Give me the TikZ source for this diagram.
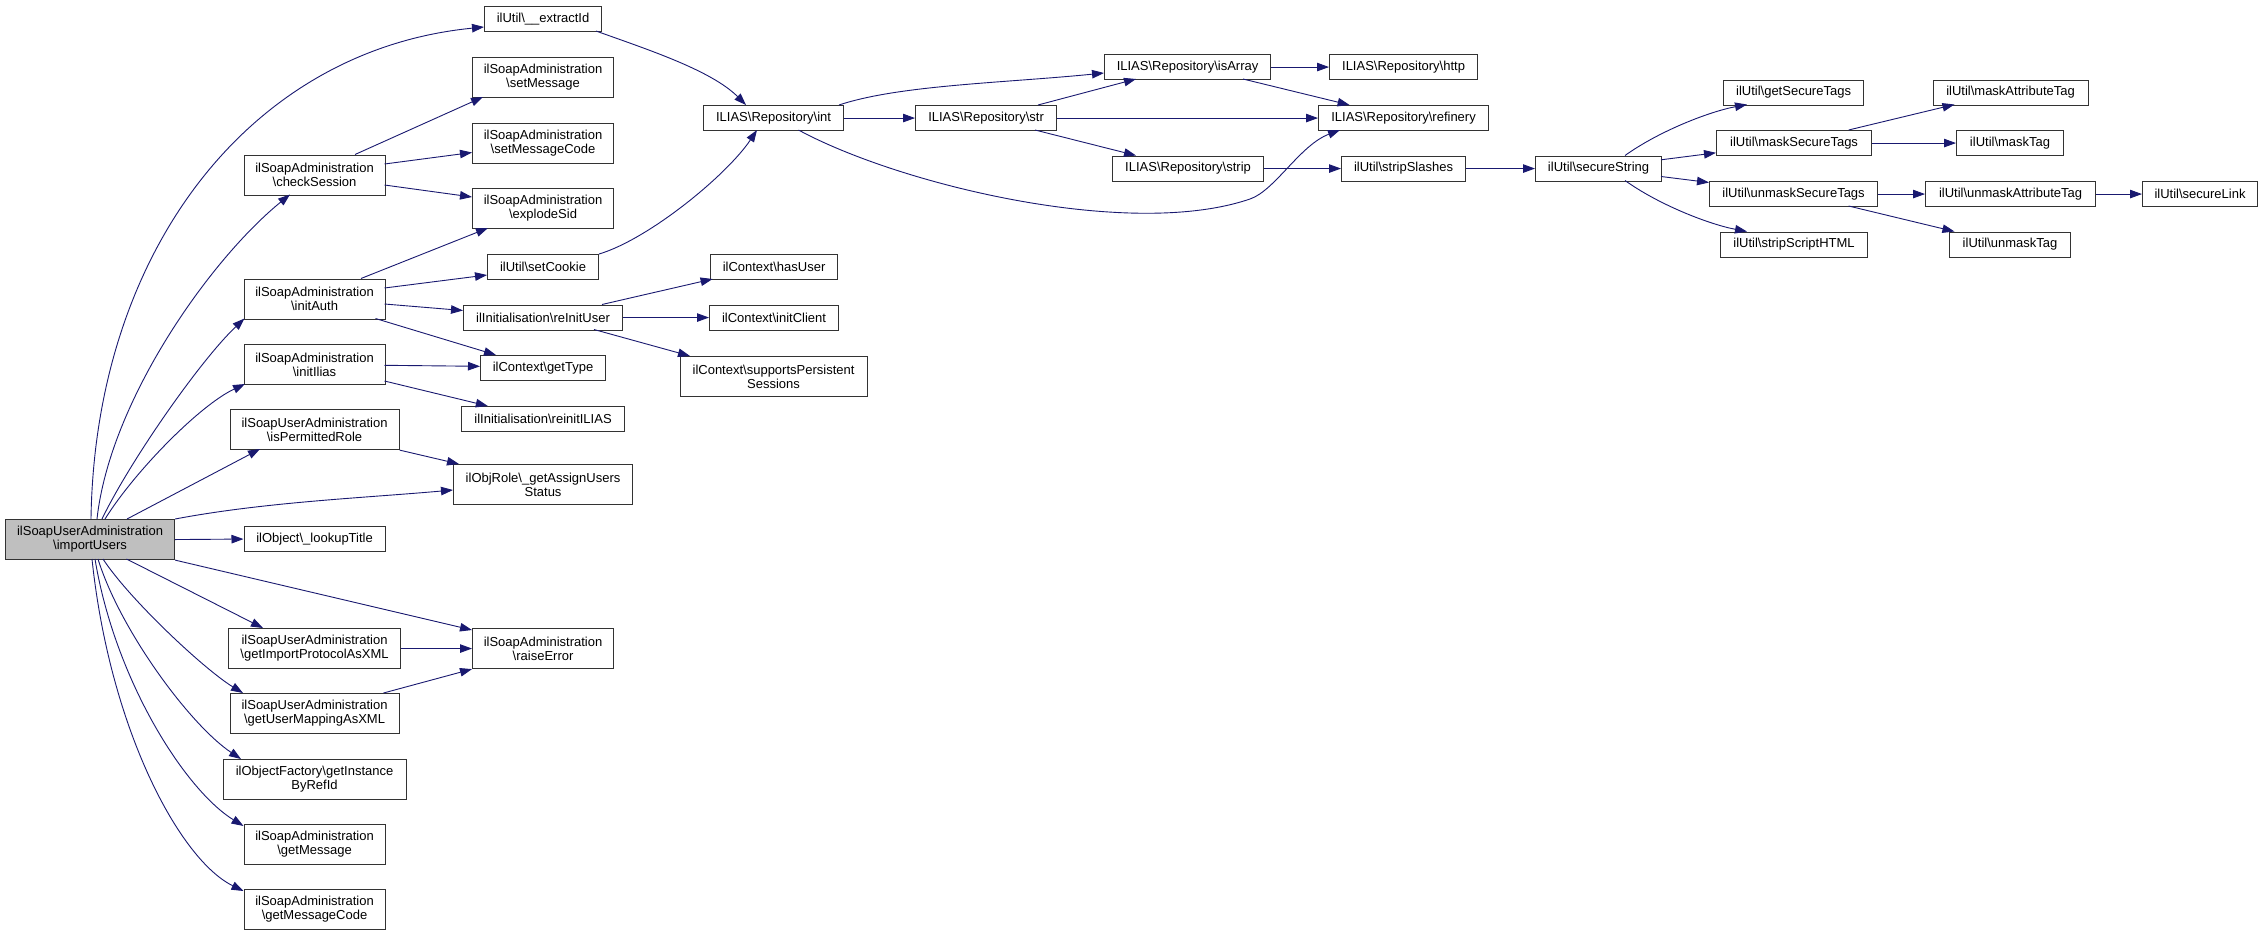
\documentclass[tikz,border=0pt]{standalone}
\usepackage{fontspec}
\setmainfont{Liberation Sans}
\usetikzlibrary{arrows.meta}
\definecolor{edgeblue}{HTML}{191970}
\definecolor{boxline}{HTML}{333333}
\newcommand\bsl{\textbackslash{}}
\tikzset{
  box/.style={draw=boxline, line width=1.1pt, inner sep=1pt, align=center, anchor=north west,
    font=\fontsize{13}{14}\selectfont, minimum height=25pt},
  tall/.style={minimum height=40pt},
  e/.style={draw=edgeblue, line width=0.9pt, -{Triangle[length=12pt,width=8.5pt]}}
}
\begin{document}
\begin{tikzpicture}[x=1pt,y=-1pt]
\fill[white] (0,0) rectangle (2263,935);
\useasboundingbox (0,0) rectangle (2263,935);
% column 1
\node[box,tall,fill=black!25,minimum width=169pt] (iu) at (5,519) {ilSoapUserAdministration\\\bsl importUsers};
% column 2
\node[box,tall,minimum width=141pt] (cs) at (243.5,154.5) {ilSoapAdministration\\\bsl checkSession};
\node[box,tall,minimum width=141pt] (ia) at (243.5,278.5) {ilSoapAdministration\\\bsl initAuth};
\node[box,tall,minimum width=141pt] (ii) at (243.5,344) {ilSoapAdministration\\\bsl initIlias};
\node[box,tall,minimum width=169pt] (ip) at (229.5,409) {ilSoapUserAdministration\\\bsl isPermittedRole};
\node[box,minimum width=141pt] (lt) at (243.5,526) {ilObject\bsl\_lookupTitle};
\node[box,tall,minimum width=172pt] (gi) at (228,628) {ilSoapUserAdministration\\\bsl getImportProtocolAsXML};
\node[box,tall,minimum width=169pt] (gu) at (229.5,693) {ilSoapUserAdministration\\\bsl getUserMappingAsXML};
\node[box,tall,minimum width=183pt] (gf) at (222.5,759) {ilObjectFactory\bsl getInstance\\ByRefId};
\node[box,tall,minimum width=141pt] (gm) at (243.5,824) {ilSoapAdministration\\\bsl getMessage};
\node[box,tall,minimum width=141pt] (gc) at (243.5,889) {ilSoapAdministration\\\bsl getMessageCode};
% column 3
\node[box,minimum width=117pt] (ex) at (484,6) {ilUtil\bsl\_\_extractId};
\node[box,tall,minimum width=141pt] (sm) at (472,57) {ilSoapAdministration\\\bsl setMessage};
\node[box,tall,minimum width=141pt] (smc) at (472,122.5) {ilSoapAdministration\\\bsl setMessageCode};
\node[box,tall,minimum width=141pt] (es) at (472,188) {ilSoapAdministration\\\bsl explodeSid};
\node[box,minimum width=111pt] (sc) at (487,254) {ilUtil\bsl setCookie};
\node[box,minimum width=159pt] (ri) at (463,304.5) {ilInitialisation\bsl reInitUser};
\node[box,minimum width=125pt] (gt) at (480,355) {ilContext\bsl getType};
\node[box,minimum width=163pt] (rI) at (461,406) {ilInitialisation\bsl reinitILIAS};
\node[box,tall,minimum width=179pt] (ga) at (453,464) {ilObjRole\bsl\_getAssignUsers\\Status};
\node[box,tall,minimum width=141pt] (re) at (472,628) {ilSoapAdministration\\\bsl raiseError};
% column 4
\node[box,minimum width=140pt] (in) at (703,105) {ILIAS\bsl Repository\bsl int};
\node[box,minimum width=127pt] (hu) at (710,254) {ilContext\bsl hasUser};
\node[box,minimum width=129pt] (ic) at (709,304.5) {ilContext\bsl initClient};
\node[box,tall,minimum width=187pt] (sp) at (679.5,356) {ilContext\bsl supportsPersistent\\Sessions};
% column 5
\node[box,minimum width=141pt] (str) at (915,105) {ILIAS\bsl Repository\bsl str};
% column 6
\node[box,minimum width=166pt] (ar) at (1104,54) {ILIAS\bsl Repository\bsl isArray};
\node[box,minimum width=151pt] (st) at (1112,155.5) {ILIAS\bsl Repository\bsl strip};
% column 7
\node[box,minimum width=148pt] (ht) at (1329,54) {ILIAS\bsl Repository\bsl http};
\node[box,minimum width=170pt] (rf) at (1318,105) {ILIAS\bsl Repository\bsl refinery};
\node[box,minimum width=124pt] (ss) at (1341,155.5) {ilUtil\bsl stripSlashes};
% column 8
\node[box,minimum width=126pt] (sS) at (1535,155.5) {ilUtil\bsl secureString};
% column 9
\node[box,minimum width=140pt] (gst) at (1723,79.5) {ilUtil\bsl getSecureTags};
\node[box,minimum width=155pt] (ms) at (1716,130) {ilUtil\bsl maskSecureTags};
\node[box,minimum width=168pt] (um) at (1709,181) {ilUtil\bsl unmaskSecureTags};
\node[box,minimum width=147pt] (sh) at (1720,231.5) {ilUtil\bsl stripScriptHTML};
% column 10
\node[box,minimum width=155pt] (ma) at (1932.5,79.5) {ilUtil\bsl maskAttributeTag};
\node[box,minimum width=107pt] (mt) at (1956,130) {ilUtil\bsl maskTag};
\node[box,minimum width=170pt] (ua) at (1925,181) {ilUtil\bsl unmaskAttributeTag};
\node[box,minimum width=121pt] (ut) at (1949,231.5) {ilUtil\bsl unmaskTag};
% column 11
\node[box,minimum width=115pt] (sl) at (2142,181) {ilUtil\bsl secureLink};

% edges from importUsers
\draw[e] ([shift={(86,0)}]iu.north west) .. controls +(4,-268) and +(-234,23) .. ([shift={(0,21)}]ex.north west);
\draw[e] ([shift={(92,0)}]iu.north west) .. controls +(13,-118) and +(-80,65) .. ([shift={(46.5,40)}]cs.north west);
\draw[e] ([shift={(97,0)}]iu.north west) .. controls +(28,-58) and +(-44,41.5) .. ([shift={(1,40)}]ia.north west);
\draw[e] ([shift={(100,0)}]iu.north west) .. controls +(30,-48) and +(-45,21) .. ([shift={(1.5,40)}]ii.north west);
\draw[e] ([shift={(122,0)}]iu.north west) -- ([shift={(30.5,40)}]ip.north west);
\draw[e] (iu.north east) .. controls +(90,-17) and +(-90,8) .. ([shift={(0,26)}]ga.north west);
\draw[e] (iu.east) -- (lt.west);
\draw[e] (iu.south east) -- ([shift={(0,2)}]re.north west);
\draw[e] ([shift={(121.5,40)}]iu.north west) -- ([shift={(35,0)}]gi.north west);
\draw[e] ([shift={(98,40)}]iu.north west) .. controls +(27,41) and +(-38,-23) .. ([shift={(13.5,0)}]gu.north west);
\draw[e] ([shift={(93,40)}]iu.north west) .. controls +(22,71) and +(-51,-34) .. ([shift={(18.5,0)}]gf.north west);
\draw[e] ([shift={(90,40)}]iu.north west) .. controls +(20,121) and +(-58.5,-36) .. ([shift={(0,2)}]gm.north west);
\draw[e] ([shift={(87,40)}]iu.north west) .. controls +(18,171) and +(-63.5,-31) .. ([shift={(0,2)}]gc.north west);
% checkSession
\draw[e] ([shift={(111.5,0)}]cs.north west) -- ([shift={(11,40)}]sm.north west);
\draw[e] ([shift={(141,9.5)}]cs.north west) -- ([shift={(0,30)}]smc.north west);
\draw[e] ([shift={(141,30.5)}]cs.north west) -- ([shift={(0,9)}]es.north west);
% initAuth
\draw[e] ([shift={(117.5,0)}]ia.north west) -- ([shift={(16,40)}]es.north west);
\draw[e] ([shift={(141,9.5)}]ia.north west) -- ([shift={(0,21)}]sc.north west);
\draw[e] ([shift={(141,25.5)}]ia.north west) -- ([shift={(0,6)}]ri.north west);
\draw[e] ([shift={(132,40)}]ia.north west) -- ([shift={(16,0)}]gt.north west);
% initIlias
\draw[e] ([shift={(141,21.3)}]ii.north west) -- ([shift={(0,11.3)}]gt.north west);
\draw[e] ([shift={(141,37)}]ii.north west) -- ([shift={(26.8,0)}]rI.north west);
% isPermittedRole
\draw[e] (ip.south east) -- ([shift={(6,0)}]ga.north west);
% raiseError callers
\draw[e] (gi.east) -- (re.west);
\draw[e] ([shift={(154,0)}]gu.north west) -- (re.south west);
% to int
\draw[e] ([shift={(112,25)}]ex.north west) .. controls +(50,18) and +(-35,-35) .. ([shift={(43,0)}]in.north west);
\draw[e] (sc.north east) .. controls +(50,-15) and +(-30,45) .. ([shift={(54,25)}]in.north west);
% reInitUser
\draw[e] ([shift={(139,0)}]ri.north west) -- ([shift={(2.6,25)}]hu.north west);
\draw[e] (ri.east) -- (ic.west);
\draw[e] ([shift={(131,25)}]ri.north west) -- ([shift={(10.5,0)}]sp.north west);
% int
\draw[e] ([shift={(136,0)}]in.north west) .. controls +(60,-20) and +(-100,10) .. ([shift={(0,19)}]ar.north west);
\draw[e] (in.east) -- (str.west);
\draw[e] ([shift={(95.5,25)}]in.north west) .. controls (900,185) and (1130,240) .. (1250,199)
   .. controls (1275,190.5) and (1300,145) .. ([shift={(22,25)}]rf.north west);
% str
\draw[e] ([shift={(123,0)}]str.north west) -- ([shift={(32,25)}]ar.north west);
\draw[e] (str.east) -- (rf.west);
\draw[e] ([shift={(120,25)}]str.north west) -- ([shift={(24,0)}]st.north west);
% isArray
\draw[e] (ar.east) -- (ht.west);
\draw[e] ([shift={(139,25)}]ar.north west) -- ([shift={(31.6,0)}]rf.north west);
% strip chain
\draw[e] (st.east) -- (ss.west);
\draw[e] (ss.east) -- (sS.west);
% secureString
\draw[e] ([shift={(90,0)}]sS.north west) .. controls +(35,-25) and +(-37,7) .. ([shift={(24,25)}]gst.north west);
\draw[e] ([shift={(126,4.3)}]sS.north west) -- ([shift={(0,22.8)}]ms.north west);
\draw[e] ([shift={(126,21)}]sS.north west) -- ([shift={(0,1.5)}]um.north west);
\draw[e] ([shift={(90,25)}]sS.north west) .. controls +(35,25) and +(-37,-7) .. ([shift={(27,0)}]sh.north west);
% maskSecureTags
\draw[e] ([shift={(132.6,0)}]ms.north west) -- ([shift={(22,25)}]ma.north west);
\draw[e] (ms.east) -- (mt.west);
% unmaskSecureTags
\draw[e] (um.east) -- (ua.west);
\draw[e] ([shift={(139.6,25)}]um.north west) -- ([shift={(5.4,0)}]ut.north west);
\draw[e] (ua.east) -- (sl.west);
\end{tikzpicture}
\end{document}
